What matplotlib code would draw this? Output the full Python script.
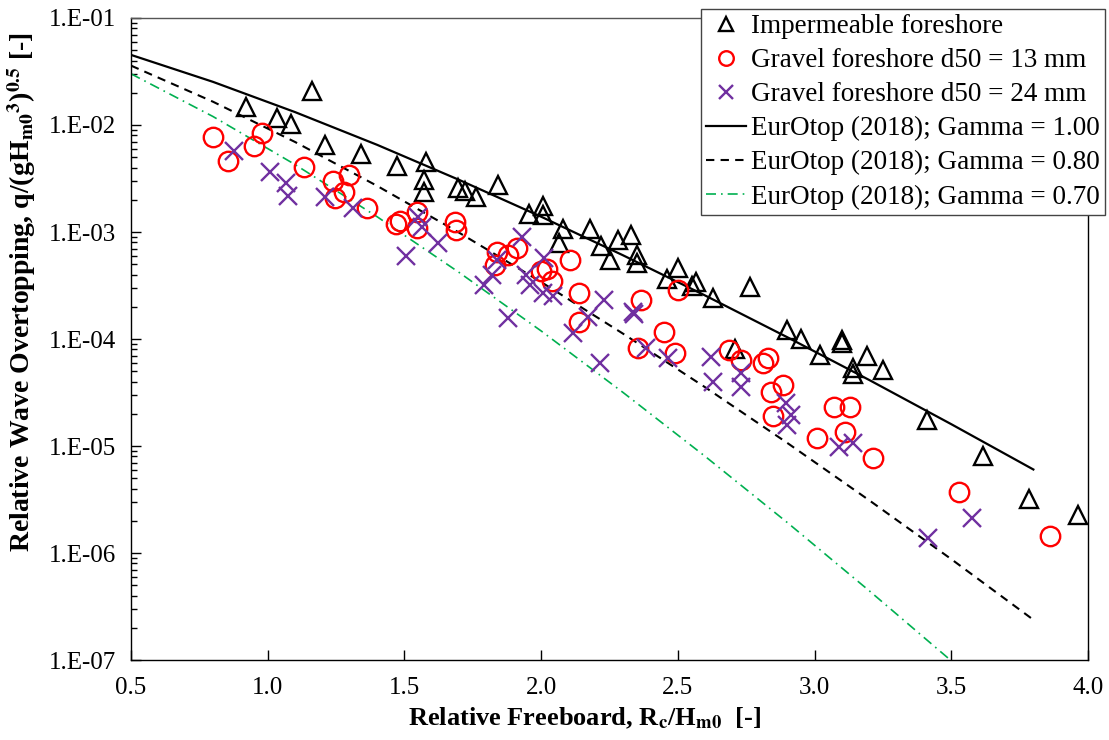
import numpy as np
import matplotlib.pyplot as plt
from matplotlib.ticker import FixedLocator, FuncFormatter, NullFormatter

plt.rcParams['font.family'] = ['Liberation Serif', 'DejaVu Serif']
plt.rcParams['mathtext.fontset'] = 'stix'

# impermeable foreshore (triangles)
x_imp = [0.92, 1.035, 1.086, 1.163, 1.21, 1.342, 1.474, 1.58, 1.573, 1.573, 1.697, 1.72, 1.763,
         1.844, 1.957, 2.005, 2.005, 2.067, 2.08, 2.18, 2.22, 2.25, 2.28, 2.33, 2.35, 2.35,
         2.46, 2.50, 2.55, 2.565, 2.627, 2.763, 2.71, 2.90, 2.95, 3.02, 3.10, 3.10, 3.14, 3.14,
         3.19, 3.25, 3.41, 3.616, 3.784, 3.964]
q_imp = [1.47e-2, 1.16e-2, 1.02e-2, 2.08e-2, 6.5e-3, 5.36e-3, 4.14e-3, 4.5e-3, 3.06e-3, 2.37e-3,
         2.58e-3, 2.4e-3, 2.12e-3, 2.75e-3, 1.47e-3, 1.75e-3, 1.43e-3, 7.9e-4, 1.07e-3, 1.07e-3,
         7.4e-4, 5.5e-4, 8.4e-4, 9.4e-4, 6.1e-4, 5.1e-4, 3.6e-4, 4.6e-4, 3.1e-4, 3.4e-4, 2.4e-4,
         3.06e-4, 8.1e-5, 1.21e-4, 9.9e-5, 7.1e-5, 9.8e-5, 9.1e-5, 5.4e-5, 4.7e-5, 6.9e-5, 5.1e-5,
         1.75e-5, 8.1e-6, 3.2e-6, 2.26e-6]

# gravel foreshore d50 = 13 mm (circles)
x_g13 = [0.80, 0.855, 0.95, 0.98, 1.133, 1.24, 1.247, 1.28, 1.298, 1.364, 1.47, 1.485, 1.547,
         1.547, 1.686, 1.69, 1.84, 1.833, 1.88, 1.913, 2.0, 2.02, 2.04, 2.107, 2.14, 2.137,
         2.364, 2.45, 2.356, 2.50, 2.49, 2.686, 2.73, 2.81, 2.83, 2.84, 2.884, 3.07, 3.13,
         2.847, 3.008, 3.11, 3.213, 3.528, 3.861]
q_g13 = [7.7e-3, 4.6e-3, 6.4e-3, 8.4e-3, 4.05e-3, 3.0e-3, 2.08e-3, 2.37e-3, 3.4e-3, 1.68e-3,
         1.19e-3, 1.27e-3, 1.54e-3, 1.09e-3, 1.24e-3, 1.05e-3, 6.5e-4, 4.9e-4, 6.1e-4, 7.1e-4,
         4.3e-4, 4.5e-4, 3.5e-4, 5.5e-4, 2.7e-4, 1.44e-4, 2.3e-4, 1.16e-4, 8.3e-5, 2.87e-4, 7.4e-5,
         7.9e-5, 6.4e-5, 6.0e-5, 6.6e-5, 3.2e-5, 3.7e-5, 2.3e-5, 2.3e-5, 1.9e-5, 1.2e-5, 1.35e-5,
         7.7e-6, 3.7e-6, 1.44e-6]

# gravel foreshore d50 = 24 mm (crosses)
x_g24 = [0.875, 1.009, 1.067, 1.075, 1.21, 1.313, 1.55, 1.566, 1.507, 1.624, 1.93, 1.84, 1.82,
         1.79, 2.01, 1.943, 1.96, 2.005, 2.045, 2.23, 1.877, 2.17, 2.335, 2.34, 2.118, 2.217,
         2.382, 2.463, 2.62, 2.63, 2.73, 2.73, 2.895, 2.913, 2.90, 3.09, 3.14, 3.415, 3.576]
q_g24 = [5.7e-3, 3.6e-3, 2.87e-3, 2.17e-3, 2.12e-3, 1.68e-3, 1.38e-3, 1.11e-3, 6.0e-4, 7.9e-4,
         9.0e-4, 5.5e-4, 4.0e-4, 3.2e-4, 5.7e-4, 4.0e-4, 3.2e-4, 2.7e-4, 2.5e-4, 2.3e-4, 1.57e-4,
         1.6e-4, 1.79e-4, 1.7e-4, 1.14e-4, 6.0e-5, 8.2e-5, 6.6e-5, 6.8e-5, 4.0e-5, 4.8e-5, 3.6e-5,
         2.5e-5, 1.95e-5, 1.57e-5, 9.8e-6, 1.07e-5, 1.38e-6, 2.12e-6]

# EurOtop (2018) curves read at Rc/Hm0 = 0.5 ... 3.8
x_eo = [0.5, 0.8, 1.1, 1.4, 1.7, 2.0, 2.3, 2.6, 2.9, 3.2, 3.5, 3.8]
q_g100 = [4.52e-2, 2.53e-2, 1.32e-2, 6.53e-3, 3.07e-3, 1.39e-3, 6.05e-4, 2.55e-4, 1.04e-4,
          4.14e-5, 1.60e-5, 6.04e-6]
q_g080 = [3.59e-2, 1.65e-2, 6.94e-3, 2.70e-3, 9.86e-4, 3.41e-4, 1.12e-4, 3.54e-5, 1.07e-5,
          3.11e-6, 8.77e-7, 2.38e-7]
q_g070 = [3.01e-2, 1.20e-2, 4.27e-3, 1.39e-3, 4.19e-4, 1.19e-4, 3.16e-5, 8.00e-6, 1.93e-6,
          4.44e-7, 9.84e-8, 2.09e-8]

# axis ticks
x_ticks = [0.5, 1.0, 1.5, 2.0, 2.5, 3.0, 3.5, 4.0]
y_ticks = [1e-7, 1e-6, 1e-5, 1e-4, 1e-3, 1e-2, 1e-1]

fig = plt.figure(figsize=(11.09, 7.40), dpi=100)
ax = fig.add_axes([0.1181, 0.108, 0.8630, 0.8677])

ax.plot(x_imp, q_imp, linestyle='none', marker='^', markersize=13, markerfacecolor='none',
        markeredgecolor='black', markeredgewidth=1.7, label='Impermeable foreshore', zorder=3)
ax.plot(x_g13, q_g13, linestyle='none', marker='o', markersize=14, markerfacecolor='none',
        markeredgecolor='#ff0000', markeredgewidth=1.7, label='Gravel foreshore d50 = 13 mm', zorder=3)
ax.plot(x_g24, q_g24, linestyle='none', marker='x', markersize=13, markeredgecolor='#7030a0',
        markeredgewidth=1.7, label='Gravel foreshore d50 = 24 mm', zorder=3)
ax.plot(x_eo, q_g100, color='black', linestyle='-', linewidth=1.6,
        label='EurOtop (2018); Gamma = 1.00', zorder=2)
ax.plot(x_eo, q_g080, color='black', linestyle=(0, (4, 3)), linewidth=1.5,
        label='EurOtop (2018); Gamma = 0.80', zorder=2)
ax.plot(x_eo, q_g070, color='#00b050', linestyle=(0, (6, 3, 1, 3)), linewidth=1.2,
        label='EurOtop (2018); Gamma = 0.70', zorder=2)

ax.set_yscale('log')
ax.set_xlim(0.5, 4.0)
ax.set_ylim(1e-7, 1e-1)

ax.xaxis.set_major_locator(FixedLocator(x_ticks))
ax.xaxis.set_major_formatter(FuncFormatter(lambda v, p: f"{v:.1f}"))
ax.yaxis.set_major_locator(FixedLocator(y_ticks))
minors = [m * t for t in y_ticks[:-1] for m in range(2, 10)]
ax.yaxis.set_minor_locator(FixedLocator(minors))
ax.yaxis.set_minor_formatter(NullFormatter())
ax.yaxis.set_major_formatter(FuncFormatter(lambda v, p: f"1.E-{int(round(-np.log10(v))):02d}"))

ax.tick_params(axis='both', which='major', direction='in', length=7, width=1, labelsize=18)
ax.tick_params(axis='x', which='major', pad=12)
ax.tick_params(axis='y', which='major', pad=11)
ax.tick_params(axis='y', which='minor', direction='in', length=4, width=1)
ax.tick_params(top=False, right=False)

for s in ['left', 'bottom', 'right']:
    ax.spines[s].set_color('black')
    ax.spines[s].set_linewidth(1)
ax.spines['top'].set_color('#555555')
ax.spines['top'].set_linewidth(1)

ax.set_xlabel(r"Relative Freeboard, R$_\mathbf{c}$/H$_\mathbf{m0}$  [-]", fontsize=19,
              fontweight='bold')
ax.xaxis.set_label_coords(0.474, -0.071)
ax.set_ylabel(r"Relative Wave Overtopping, q/(gH$_\mathbf{m0}$$^\mathbf{3}$)$^\mathbf{0.5}$ [-]",
              fontsize=20, fontweight='bold')
ax.yaxis.set_label_coords(-0.097, 0.573)

leg = ax.legend(loc='upper right', bbox_to_anchor=(1.018, 1.014), fontsize=19.5, frameon=True,
                fancybox=False, edgecolor='#444444', framealpha=1, handlelength=1.45,
                handletextpad=0.2, borderpad=0.2, labelspacing=0.33, borderaxespad=0,
                markerscale=0.75)
leg.get_frame().set_linewidth(1)

plt.savefig("out.png", dpi=100)
